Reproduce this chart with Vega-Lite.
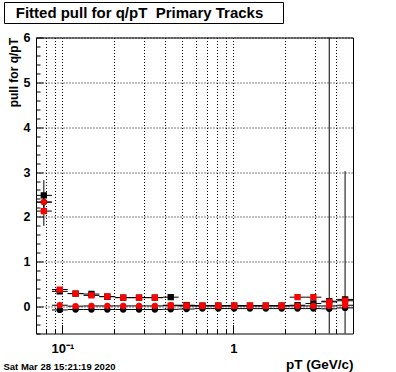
{
  "$schema": "https://vega.github.io/schema/vega-lite/v6.json",
  "padding": {"left": 3, "top": 1, "right": 0, "bottom": 0},
  "autosize": {"type": "pad"},
  "config": {
    "view": {"stroke": "#000000", "strokeWidth": 1},
    "font": "Liberation Sans",
    "axis": {
      "labelFont": "Liberation Sans", "labelFontWeight": "bold", "labelColor": "#000000",
      "titleFont": "Liberation Sans", "titleFontWeight": "bold", "titleColor": "#000000",
      "tickColor": "#000000", "tickWidth": 1, "gridColor": "#000000", "gridDash": [1, 2], "gridOpacity": 1, "gridWidth": 1,
      "domain": false
    }
  },
  "title": {
    "text": "Sat Mar 28 15:21:19 2020", "orient": "bottom", "anchor": "start", "frame": "bounds",
    "font": "Liberation Sans", "fontSize": 9.5, "fontWeight": "bold", "color": "#000000",
    "baseline": "alphabetic", "offset": -2
  },
  "columns": 1,
  "align": "none",
  "bounds": "full",
  "spacing": 6.5,
  "concat": [
    {
      "width": 279, "height": 21,
      "view": {"stroke": "#000000", "strokeWidth": 1, "fill": "#ffffff"},
      "data": {"values": [{"label": "Fitted pull for q/pT \u00a0Primary Tracks"}]},
      "mark": {"type": "text", "font": "Liberation Sans", "fontWeight": "bold", "fontSize": 15, "color": "#000000", "dx": -4, "baseline": "middle"},
      "encoding": {"text": {"field": "label", "type": "nominal"}}
    },
    {
      "spacing": 0,
      "hconcat": [
        {
          "width": 3, "height": 296,
          "view": {"stroke": null},
          "data": {"values": [{"label": ""}]},
          "mark": {"type": "text"},
          "encoding": {"text": {"field": "label", "type": "nominal"}}
        },
        {
          "width": 317, "height": 296,
          "view": {"stroke": "#000000", "strokeWidth": 1},
          "data": {"values": [
            {"series":"A","pt":0.0778,"pt_lo":0.0700,"pt_hi":0.0867,"pull":2.48,"pull_lo":2.14,"pull_hi":2.82},
            {"series":"A","pt":0.0964,"pt_lo":0.0867,"pt_hi":0.1073,"pull":0.34,"pull_lo":0.31,"pull_hi":0.37},
            {"series":"A","pt":0.1193,"pt_lo":0.1073,"pt_hi":0.1328,"pull":0.29,"pull_lo":0.26,"pull_hi":0.32},
            {"series":"A","pt":0.1477,"pt_lo":0.1328,"pt_hi":0.1644,"pull":0.28,"pull_lo":0.25,"pull_hi":0.31},
            {"series":"A","pt":0.1829,"pt_lo":0.1644,"pt_hi":0.2035,"pull":0.22,"pull_lo":0.19,"pull_hi":0.25},
            {"series":"A","pt":0.2264,"pt_lo":0.2035,"pt_hi":0.2519,"pull":0.20,"pull_lo":0.17,"pull_hi":0.23},
            {"series":"A","pt":0.2803,"pt_lo":0.2519,"pt_hi":0.3119,"pull":0.20,"pull_lo":0.17,"pull_hi":0.23},
            {"series":"A","pt":0.3470,"pt_lo":0.3119,"pt_hi":0.3861,"pull":0.20,"pull_lo":0.17,"pull_hi":0.23},
            {"series":"A","pt":0.4295,"pt_lo":0.3861,"pt_hi":0.4780,"pull":0.21,"pull_lo":0.18,"pull_hi":0.24},
            {"series":"A","pt":0.5318,"pt_lo":0.4780,"pt_hi":0.5917,"pull":0.03,"pull_lo":0.00,"pull_hi":0.06},
            {"series":"A","pt":0.6582,"pt_lo":0.5917,"pt_hi":0.7325,"pull":0.02,"pull_lo":-0.01,"pull_hi":0.05},
            {"series":"A","pt":0.8148,"pt_lo":0.7325,"pt_hi":0.9068,"pull":0.02,"pull_lo":-0.01,"pull_hi":0.05},
            {"series":"A","pt":1.0088,"pt_lo":0.9068,"pt_hi":1.1226,"pull":0.02,"pull_lo":-0.01,"pull_hi":0.05},
            {"series":"A","pt":1.2489,"pt_lo":1.1226,"pt_hi":1.3897,"pull":0.02,"pull_lo":-0.01,"pull_hi":0.05},
            {"series":"A","pt":1.5461,"pt_lo":1.3897,"pt_hi":1.7204,"pull":0.02,"pull_lo":-0.01,"pull_hi":0.05},
            {"series":"A","pt":1.9140,"pt_lo":1.7204,"pt_hi":2.1298,"pull":0.02,"pull_lo":-0.01,"pull_hi":0.05},
            {"series":"A","pt":2.3695,"pt_lo":2.1298,"pt_hi":2.6366,"pull":0.03,"pull_lo":0.00,"pull_hi":0.06},
            {"series":"A","pt":2.9333,"pt_lo":2.6366,"pt_hi":3.2640,"pull":0.07,"pull_lo":0.04,"pull_hi":0.10},
            {"series":"A","pt":3.6308,"pt_lo":3.2640,"pt_hi":4.0406,"pull":0.12,"pull_lo":-6.9,"pull_hi":7.1},
            {"series":"A","pt":4.4948,"pt_lo":4.0406,"pt_hi":5.0000,"pull":0.16,"pull_lo":-2.7,"pull_hi":3.02},
            {"series":"B","pt":0.0778,"pt_lo":0.0700,"pt_hi":0.0867,"pull":2.33,"pull_lo":2.25,"pull_hi":2.41},
            {"series":"B","pt":0.0964,"pt_lo":0.0867,"pt_hi":0.1073,"pull":-0.075,"pull_lo":-0.1,"pull_hi":-0.05},
            {"series":"B","pt":0.1193,"pt_lo":0.1073,"pt_hi":0.1328,"pull":-0.065,"pull_lo":-0.09,"pull_hi":-0.04},
            {"series":"B","pt":0.1477,"pt_lo":0.1328,"pt_hi":0.1644,"pull":-0.065,"pull_lo":-0.09,"pull_hi":-0.04},
            {"series":"B","pt":0.1829,"pt_lo":0.1644,"pt_hi":0.2035,"pull":-0.065,"pull_lo":-0.09,"pull_hi":-0.04},
            {"series":"B","pt":0.2264,"pt_lo":0.2035,"pt_hi":0.2519,"pull":-0.065,"pull_lo":-0.09,"pull_hi":-0.04},
            {"series":"B","pt":0.2803,"pt_lo":0.2519,"pt_hi":0.3119,"pull":-0.065,"pull_lo":-0.09,"pull_hi":-0.04},
            {"series":"B","pt":0.3470,"pt_lo":0.3119,"pt_hi":0.3861,"pull":-0.065,"pull_lo":-0.09,"pull_hi":-0.04},
            {"series":"B","pt":0.4295,"pt_lo":0.3861,"pt_hi":0.4780,"pull":-0.06,"pull_lo":-0.085,"pull_hi":-0.035},
            {"series":"B","pt":0.5318,"pt_lo":0.4780,"pt_hi":0.5917,"pull":-0.055,"pull_lo":-0.08,"pull_hi":-0.03},
            {"series":"B","pt":0.6582,"pt_lo":0.5917,"pt_hi":0.7325,"pull":-0.045,"pull_lo":-0.07,"pull_hi":-0.02},
            {"series":"B","pt":0.8148,"pt_lo":0.7325,"pt_hi":0.9068,"pull":-0.045,"pull_lo":-0.07,"pull_hi":-0.02},
            {"series":"B","pt":1.0088,"pt_lo":0.9068,"pt_hi":1.1226,"pull":-0.045,"pull_lo":-0.07,"pull_hi":-0.02},
            {"series":"B","pt":1.2489,"pt_lo":1.1226,"pt_hi":1.3897,"pull":-0.045,"pull_lo":-0.07,"pull_hi":-0.02},
            {"series":"B","pt":1.5461,"pt_lo":1.3897,"pt_hi":1.7204,"pull":-0.045,"pull_lo":-0.07,"pull_hi":-0.02},
            {"series":"B","pt":1.9140,"pt_lo":1.7204,"pt_hi":2.1298,"pull":-0.045,"pull_lo":-0.07,"pull_hi":-0.02},
            {"series":"B","pt":2.3695,"pt_lo":2.1298,"pt_hi":2.6366,"pull":-0.045,"pull_lo":-0.07,"pull_hi":-0.02},
            {"series":"B","pt":2.9333,"pt_lo":2.6366,"pt_hi":3.2640,"pull":-0.045,"pull_lo":-0.07,"pull_hi":-0.02},
            {"series":"B","pt":3.6308,"pt_lo":3.2640,"pt_hi":4.0406,"pull":-0.05,"pull_lo":-0.075,"pull_hi":-0.025},
            {"series":"B","pt":4.4948,"pt_lo":4.0406,"pt_hi":5.0000,"pull":-0.03,"pull_lo":-0.055,"pull_hi":-0.005},
            {"series":"C","pt":0.0778,"pt_lo":0.0700,"pt_hi":0.0867,"pull":2.13,"pull_lo":1.80,"pull_hi":2.46},
            {"series":"C","pt":0.0964,"pt_lo":0.0867,"pt_hi":0.1073,"pull":0.38,"pull_lo":0.35,"pull_hi":0.41},
            {"series":"C","pt":0.1193,"pt_lo":0.1073,"pt_hi":0.1328,"pull":0.29,"pull_lo":0.26,"pull_hi":0.32},
            {"series":"C","pt":0.1477,"pt_lo":0.1328,"pt_hi":0.1644,"pull":0.25,"pull_lo":0.22,"pull_hi":0.28},
            {"series":"C","pt":0.1829,"pt_lo":0.1644,"pt_hi":0.2035,"pull":0.225,"pull_lo":0.195,"pull_hi":0.255},
            {"series":"C","pt":0.2264,"pt_lo":0.2035,"pt_hi":0.2519,"pull":0.20,"pull_lo":0.17,"pull_hi":0.23},
            {"series":"C","pt":0.2803,"pt_lo":0.2519,"pt_hi":0.3119,"pull":0.20,"pull_lo":0.17,"pull_hi":0.23},
            {"series":"C","pt":0.3470,"pt_lo":0.3119,"pt_hi":0.3861,"pull":0.20,"pull_lo":0.17,"pull_hi":0.23},
            {"series":"C","pt":0.4295,"pt_lo":0.3861,"pt_hi":0.4780,"pull":0.02,"pull_lo":-0.01,"pull_hi":0.05},
            {"series":"C","pt":0.5318,"pt_lo":0.4780,"pt_hi":0.5917,"pull":0.02,"pull_lo":-0.01,"pull_hi":0.05},
            {"series":"C","pt":0.6582,"pt_lo":0.5917,"pt_hi":0.7325,"pull":0.02,"pull_lo":-0.01,"pull_hi":0.05},
            {"series":"C","pt":0.8148,"pt_lo":0.7325,"pt_hi":0.9068,"pull":0.02,"pull_lo":-0.01,"pull_hi":0.05},
            {"series":"C","pt":1.0088,"pt_lo":0.9068,"pt_hi":1.1226,"pull":0.02,"pull_lo":-0.01,"pull_hi":0.05},
            {"series":"C","pt":1.2489,"pt_lo":1.1226,"pt_hi":1.3897,"pull":0.02,"pull_lo":-0.01,"pull_hi":0.05},
            {"series":"C","pt":1.5461,"pt_lo":1.3897,"pt_hi":1.7204,"pull":0.02,"pull_lo":-0.01,"pull_hi":0.05},
            {"series":"C","pt":1.9140,"pt_lo":1.7204,"pt_hi":2.1298,"pull":0.02,"pull_lo":-0.01,"pull_hi":0.05},
            {"series":"C","pt":2.3695,"pt_lo":2.1298,"pt_hi":2.6366,"pull":0.21,"pull_lo":0.18,"pull_hi":0.24},
            {"series":"C","pt":2.9333,"pt_lo":2.6366,"pt_hi":3.2640,"pull":0.21,"pull_lo":0.18,"pull_hi":0.24},
            {"series":"C","pt":3.6308,"pt_lo":3.2640,"pt_hi":4.0406,"pull":0.105,"pull_lo":0.075,"pull_hi":0.135},
            {"series":"C","pt":4.4948,"pt_lo":4.0406,"pt_hi":5.0000,"pull":0.13,"pull_lo":0.10,"pull_hi":0.16},
            {"series":"D","pt":0.0778,"pt_lo":0.0700,"pt_hi":0.0867,"pull":2.33,"pull_lo":2.25,"pull_hi":2.41},
            {"series":"D","pt":0.0964,"pt_lo":0.0867,"pt_hi":0.1073,"pull":0.03,"pull_lo":0.005,"pull_hi":0.055},
            {"series":"D","pt":0.1193,"pt_lo":0.1073,"pt_hi":0.1328,"pull":0.01,"pull_lo":-0.015,"pull_hi":0.035},
            {"series":"D","pt":0.1477,"pt_lo":0.1328,"pt_hi":0.1644,"pull":0.015,"pull_lo":-0.01,"pull_hi":0.04},
            {"series":"D","pt":0.1829,"pt_lo":0.1644,"pt_hi":0.2035,"pull":0.015,"pull_lo":-0.01,"pull_hi":0.04},
            {"series":"D","pt":0.2264,"pt_lo":0.2035,"pt_hi":0.2519,"pull":0.015,"pull_lo":-0.01,"pull_hi":0.04},
            {"series":"D","pt":0.2803,"pt_lo":0.2519,"pt_hi":0.3119,"pull":0.015,"pull_lo":-0.01,"pull_hi":0.04},
            {"series":"D","pt":0.3470,"pt_lo":0.3119,"pt_hi":0.3861,"pull":0.015,"pull_lo":-0.01,"pull_hi":0.04},
            {"series":"D","pt":0.4295,"pt_lo":0.3861,"pt_hi":0.4780,"pull":0.03,"pull_lo":0.005,"pull_hi":0.055},
            {"series":"D","pt":0.5318,"pt_lo":0.4780,"pt_hi":0.5917,"pull":0.015,"pull_lo":-0.01,"pull_hi":0.04},
            {"series":"D","pt":0.6582,"pt_lo":0.5917,"pt_hi":0.7325,"pull":0.015,"pull_lo":-0.01,"pull_hi":0.04},
            {"series":"D","pt":0.8148,"pt_lo":0.7325,"pt_hi":0.9068,"pull":0.015,"pull_lo":-0.01,"pull_hi":0.04},
            {"series":"D","pt":1.0088,"pt_lo":0.9068,"pt_hi":1.1226,"pull":0.015,"pull_lo":-0.01,"pull_hi":0.04},
            {"series":"D","pt":1.2489,"pt_lo":1.1226,"pt_hi":1.3897,"pull":0.015,"pull_lo":-0.01,"pull_hi":0.04},
            {"series":"D","pt":1.5461,"pt_lo":1.3897,"pt_hi":1.7204,"pull":0.015,"pull_lo":-0.01,"pull_hi":0.04},
            {"series":"D","pt":1.9140,"pt_lo":1.7204,"pt_hi":2.1298,"pull":0.015,"pull_lo":-0.01,"pull_hi":0.04},
            {"series":"D","pt":2.3695,"pt_lo":2.1298,"pt_hi":2.6366,"pull":0.015,"pull_lo":-0.01,"pull_hi":0.04},
            {"series":"D","pt":2.9333,"pt_lo":2.6366,"pt_hi":3.2640,"pull":0.015,"pull_lo":-0.01,"pull_hi":0.04},
            {"series":"D","pt":3.6308,"pt_lo":3.2640,"pt_hi":4.0406,"pull":0.015,"pull_lo":-0.01,"pull_hi":0.04},
            {"series":"D","pt":4.4948,"pt_lo":4.0406,"pt_hi":5.0000,"pull":0.03,"pull_lo":0.005,"pull_hi":0.055}
          ]},
          "resolve": {"axis": {"x": "independent", "y": "independent"}},
          "layer": [
            {
              "mark": {"type": "rule", "color": "#000000", "strokeWidth": 1, "clip": true},
              "encoding": {
                "x": {"field": "pt_lo", "type": "quantitative",
                  "scale": {"type": "log", "domain": [0.07, 5], "nice": false},
                  "axis": {"orient": "bottom", "values": [0.1, 1], "labelExpr": "datum.value < 0.5 ? '10⁻¹' : '1'",
                    "ticks": false, "grid": false, "labelFontSize": 13, "labelPadding": 9, "labelFlush": false,
                    "title": "pT (GeV/c)", "titleFontSize": 13.5, "titleAnchor": "end", "titlePadding": 2}},
                "x2": {"field": "pt_hi"},
                "y": {"field": "pull", "type": "quantitative",
                  "scale": {"domain": [-0.6, 6], "nice": false, "zero": false},
                  "axis": {"orient": "left", "values": [0, 1, 2, 3, 4, 5, 6], "ticks": false, "grid": true,
                    "labelFontSize": 12.5, "labelPadding": 6, "labelFlush": false,
                    "title": "pull for q/pT", "titleFontSize": 12, "titleAnchor": "end", "titlePadding": 2.5}}
              }
            },
            {
              "mark": {"type": "rule", "color": "#000000", "strokeWidth": 1, "clip": true},
              "encoding": {
                "x": {"field": "pt", "type": "quantitative",
                  "scale": {"type": "log", "domain": [0.07, 5], "nice": false},
                  "axis": {"orient": "bottom", "values": [0.1, 1], "tickSize": -9, "labels": false, "grid": false, "title": null}},
                "y": {"field": "pull_lo", "type": "quantitative",
                  "scale": {"domain": [-0.6, 6], "nice": false, "zero": false},
                  "axis": {"orient": "left", "values": [0, 1, 2, 3, 4, 5, 6], "tickSize": -7, "labels": false, "grid": false, "title": null}},
                "y2": {"field": "pull_hi"}
              }
            },
            {
              "mark": {"type": "point", "filled": true, "opacity": 1, "size": 40, "clip": true},
              "encoding": {
                "x": {"field": "pt", "type": "quantitative",
                  "scale": {"type": "log", "domain": [0.07, 5], "nice": false},
                  "axis": {"orient": "bottom", "values": [0.08, 0.09, 0.1, 0.2, 0.3, 0.4, 0.5, 0.6, 0.7, 0.8, 0.9, 1, 2, 3, 4],
                    "tickSize": -4.5, "labels": false, "grid": true, "title": null}},
                "y": {"field": "pull", "type": "quantitative",
                  "scale": {"domain": [-0.6, 6], "nice": false, "zero": false},
                  "axis": {"orient": "left", "values": [-0.6, -0.4, -0.2, 0.2, 0.4, 0.6, 0.8, 1.2, 1.4, 1.6, 1.8, 2.2, 2.4, 2.6, 2.8, 3.2, 3.4, 3.6, 3.8, 4.2, 4.4, 4.6, 4.8, 5.2, 5.4, 5.6, 5.8],
                    "tickSize": -4, "labels": false, "grid": false, "title": null}},
                "shape": {"field": "series", "type": "nominal", "scale": {"domain": ["A", "B", "C", "D"], "range": ["square", "circle", "square", "circle"]}, "legend": null},
                "color": {"field": "series", "type": "nominal", "scale": {"domain": ["A", "B", "C", "D"], "range": ["#000000", "#000000", "#ff0000", "#ff0000"]}, "legend": null}
              }
            }
          ]
        }
      ]
    }
  ]
}
